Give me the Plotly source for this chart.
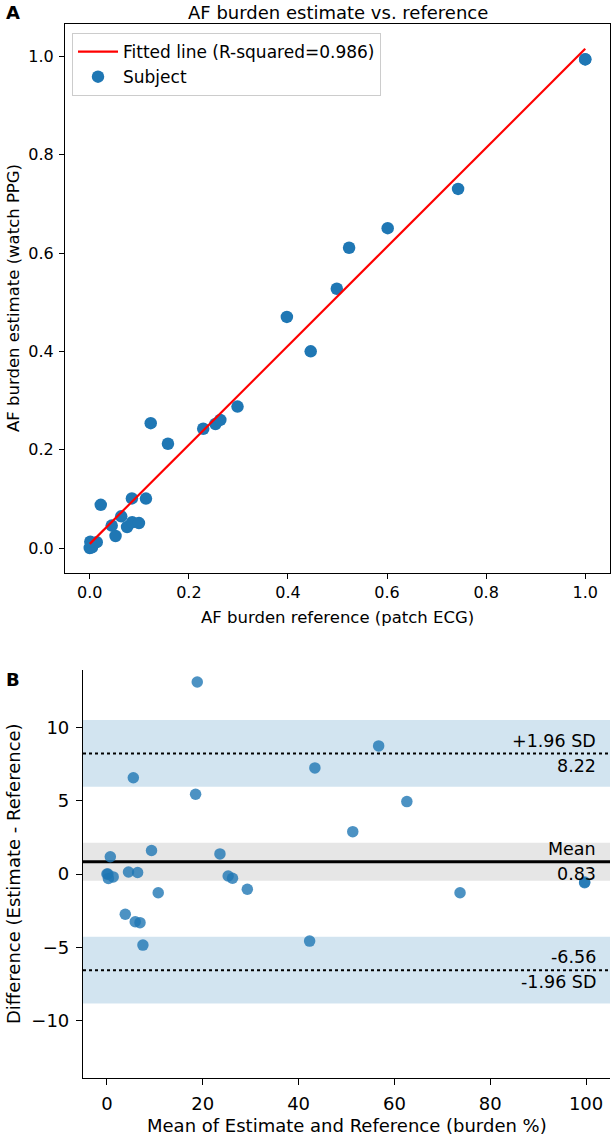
import numpy as np
import plotly.graph_objects as go

# ---------------- data ----------------
# AF burden (fraction) per subject: reference (patch ECG) and estimate (watch PPG)
ref_burden = [0.000, 0.0045, 0.002, 0.014, 0.0011, 0.0222, 0.0443, 0.052, 0.0635,
              0.0753, 0.0856, 0.085, 0.0993, 0.1134, 0.123, 0.1578, 0.229, 0.2537,
              0.2635, 0.2982, 0.3978, 0.4459, 0.4986, 0.5234, 0.6013, 0.7434, 1.000, 1.000]
est_burden = [0.000, 0.0015, 0.002, 0.012, 0.0129, 0.0879, 0.0457, 0.0245, 0.0645,
              0.0427, 0.0524, 0.101, 0.0508, 0.1006, 0.254, 0.2122, 0.2427, 0.2523,
              0.2606, 0.2878, 0.4702, 0.4001, 0.5275, 0.6108, 0.6507, 0.7306, 0.9945, 0.9940]

r_squared_text = "0.986"

# Bland-Altman statistics (burden %)
mean_diff = 0.83
upper_loa = 8.22
lower_loa = -6.56
ci_upper_loa = [5.95, 10.5]
ci_mean = [-0.46, 2.14]
ci_lower_loa = [-8.83, -4.28]

top_ticks = [0.0, 0.2, 0.4, 0.6, 0.8, 1.0]
ba_xticks = [0, 20, 40, 60, 80, 100]
ba_yticks = [-10, -5, 0, 5, 10]

# ---------------- derived ----------------
ref = np.array(ref_burden)
est = np.array(est_burden)
slope, intercept = np.polyfit(ref, est, 1)
fit_x = np.array([ref.min(), ref.max()])
fit_y = intercept + slope * fit_x

ba_mean = (ref + est) / 2 * 100
ba_diff = (est - ref) * 100

# ---------------- figure ----------------
W, H = 614, 1139
FONT = "DejaVu Sans"
BLUE = "#1f77b4"

def px_x(p):
    return p / W

def px_y(p):
    return 1 - p / H

fig = go.Figure()

# top panel
fig.add_trace(go.Scatter(
    x=ref, y=est, mode="markers", name="Subject",
    marker=dict(color=BLUE, size=12.5, line=dict(width=0)),
    xaxis="x", yaxis="y", legendrank=2))
fig.add_trace(go.Scatter(
    x=fit_x, y=fit_y, mode="lines",
    name=f"Fitted line (R-squared={r_squared_text})",
    line=dict(color="red", width=2.2),
    xaxis="x", yaxis="y", legendrank=1))

# bottom panel
fig.add_trace(go.Scatter(
    x=ba_mean, y=ba_diff, mode="markers", showlegend=False,
    marker=dict(color=BLUE, size=11.5, opacity=0.8, line=dict(width=0)),
    xaxis="x2", yaxis="y2"))

def axis_style(fs, standoff, tlen=5):
    return dict(
        showgrid=False, zeroline=False, showline=True, linecolor="black", linewidth=1.2,
        ticks="outside", ticklen=tlen, tickwidth=1.2, tickcolor="black",
        tickfont=dict(family=FONT, size=fs, color="black"),
        ticklabelstandoff=standoff,
    )

fig.update_layout(
    width=W, height=H,
    margin=dict(l=0, r=0, t=0, b=0),
    paper_bgcolor="white", plot_bgcolor="white",
    font=dict(family=FONT, color="black"),
    xaxis=dict(domain=[px_x(65), px_x(610)], range=[-0.05, 1.05],
               tickvals=top_ticks, tickformat=".1f", mirror=True, anchor="y",
               **axis_style(16, 0)),
    yaxis=dict(domain=[px_y(573), px_y(24)], range=[-0.0508, 1.066],
               tickvals=top_ticks, tickformat=".1f", mirror=True, anchor="x",
               **axis_style(16, 2)),
    xaxis2=dict(domain=[px_x(83), px_x(610)], range=[-5, 105],
                tickvals=ba_xticks, anchor="y2", **axis_style(18, 3, 6)),
    yaxis2=dict(domain=[px_y(1078), px_y(670)], range=[-13.92, 13.92],
                tickvals=ba_yticks, anchor="x2", **axis_style(18, 3, 6)),
    legend=dict(x=px_x(72), y=px_y(33), xanchor="left", yanchor="top",
                bgcolor="rgba(255,255,255,0.8)", bordercolor="#cccccc", borderwidth=1,
                itemwidth=40, tracegroupgap=4,
                font=dict(family=FONT, size=17, color="black")),
    showlegend=True,
)

# bands and reference lines on the Bland-Altman panel
shapes = []
for lo, hi, col in [(ci_upper_loa[0], ci_upper_loa[1], "rgba(31,119,180,0.2)"),
                    (ci_mean[0], ci_mean[1], "rgba(128,128,128,0.2)"),
                    (ci_lower_loa[0], ci_lower_loa[1], "rgba(31,119,180,0.2)")]:
    shapes.append(dict(type="rect", xref="x2 domain", yref="y2", x0=0, x1=1, y0=lo, y1=hi,
                       fillcolor=col, line=dict(width=0), layer="below"))
shapes.append(dict(type="line", xref="x2 domain", yref="y2", x0=0, x1=1, y0=mean_diff, y1=mean_diff,
                   line=dict(color="black", width=3), layer="below"))
for v in [upper_loa, lower_loa]:
    shapes.append(dict(type="line", xref="x2 domain", yref="y2", x0=0, x1=1, y0=v, y1=v,
                       line=dict(color="black", width=2, dash="dot"), layer="below"))
fig.update_layout(shapes=shapes)

ann = []
ann_font = dict(family=FONT, size=17.5, color="black")
xr = (598 - 83) / (610 - 83)
for val, above, below in [(upper_loa, "+1.96 SD", f"{upper_loa:.2f}"),
                          (mean_diff, "Mean", f"{mean_diff:.2f}"),
                          (lower_loa, f"{lower_loa:.2f}", "-1.96 SD")]:
    ann.append(dict(text=above, xref="x2 domain", yref="y2", x=xr, y=val, xanchor="right",
                    yanchor="middle", yshift=13, showarrow=False, font=ann_font))
    ann.append(dict(text=below, xref="x2 domain", yref="y2", x=xr, y=val, xanchor="right",
                    yanchor="middle", yshift=-12, showarrow=False, font=ann_font))

lab_top = dict(family=FONT, size=16.5, color="black")
lab_ba = dict(family=FONT, size=18, color="black")
# titles and axis labels
ann += [
    dict(text="AF burden estimate vs. reference", xref="paper", yref="paper",
         x=px_x(337.5), y=px_y(13), xanchor="center", yanchor="middle", showarrow=False,
         font=dict(family=FONT, size=18, color="black")),
    dict(text="<b>A</b>", xref="paper", yref="paper", x=px_x(13), y=px_y(13),
         xanchor="center", yanchor="middle", showarrow=False,
         font=dict(family=FONT, size=18, color="black")),
    dict(text="<b>B</b>", xref="paper", yref="paper", x=px_x(13), y=px_y(680),
         xanchor="center", yanchor="middle", showarrow=False,
         font=dict(family=FONT, size=18, color="black")),
    dict(text="AF burden reference (patch ECG)", xref="paper", yref="paper",
         x=px_x(337.5), y=px_y(617), xanchor="center", yanchor="middle", showarrow=False,
         font=lab_top),
    dict(text="AF burden estimate (watch PPG)", xref="paper", yref="paper",
         x=px_x(14), y=px_y(298), xanchor="center", yanchor="middle", textangle=-90,
         showarrow=False, font=lab_top),
    dict(text="Mean of Estimate and Reference (burden %)", xref="paper", yref="paper",
         x=px_x(346.5), y=px_y(1125), xanchor="center", yanchor="middle", showarrow=False,
         font=lab_ba),
    dict(text="Difference (Estimate - Reference)", xref="paper", yref="paper",
         x=px_x(13), y=px_y(874), xanchor="center", yanchor="middle", textangle=-90,
         showarrow=False, font=lab_ba),
]
fig.update_layout(annotations=ann)

fig.write_html(
    "out.html",
    config={"displayModeBar": False},
    post_script="document.body.style.margin='0';document.body.style.padding='0';",
)
